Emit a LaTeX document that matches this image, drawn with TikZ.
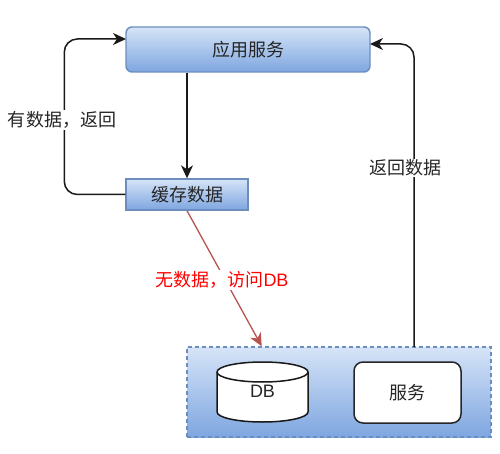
\documentclass[tikz,border=0pt]{standalone}
\usepackage{fontspec}
\setmainfont{Liberation Sans}
\newfontfamily\cjk{Noto Sans CJK SC}
\usetikzlibrary{arrows.meta,calc}
\definecolor{gtop}{HTML}{D6E4F7}
\definecolor{gbot}{HTML}{7EA6E0}
\definecolor{gedge}{HTML}{6C8EBF}
\definecolor{redline}{HTML}{B85450}
\tikzset{
  x=1pt,y=-1pt,
  blue box/.style={draw=gedge,line width=1.4pt,top color=gtop,bottom color=gbot,inner sep=0pt,font=\cjk\fontsize{18}{20}\selectfont,text=black!85},
  white box/.style={draw=black!85,line width=1.5pt,fill=white,rounded corners=9pt,inner sep=0pt,font=\cjk\fontsize{18}{20}\selectfont,text=black!85},
  conn/.style={draw=black!90,line width=1.5pt,rounded corners=13pt,-{Stealth[length=13pt,width=12pt,inset=4pt]}},
  lab/.style={fill=white,inner sep=1pt,font=\cjk\fontsize{18}{20}\selectfont,text=black!85},
}
\begin{document}
\begin{tikzpicture}
\useasboundingbox (0,0) rectangle (500,454);
\node[blue box,rounded corners=6pt,minimum width=244pt,minimum height=45pt] (app) at (248,49.5) {应用服务};
\node[blue box,minimum width=122pt,minimum height=31pt] (cache) at (187,194.5) {缓存数据};
\node[blue box,dash pattern=on 4pt off 3pt,minimum width=304pt,minimum height=90pt] (store) at (339,392) {};
% cylinder
\draw[draw=black!90,line width=1.5pt,fill=white] (217,372) arc[x radius=45.5,y radius=10,start angle=180,end angle=360] -- (308,412) arc[x radius=45.5,y radius=10,start angle=0,end angle=180] -- cycle;
\draw[draw=black!90,line width=1.5pt] (217,372) arc[x radius=45.5,y radius=10,start angle=180,end angle=0];
\node[font=\fontsize{18}{20}\selectfont,text=black!85] (db) at (262.5,391) {DB};
\node[white box,minimum width=107pt,minimum height=61pt] (svc) at (407.5,392.5) {服务};
\coordinate (appleft) at (126,39);
\coordinate (appright) at (370,44);
\coordinate (storeout) at (414,347);
\coordinate (redend) at ($(store.north west)!0.247!(store.north east)$);
\draw[conn] (app.south -| cache.north) -- (cache.north);
\draw[conn] (cache.west) -- ++(-61,0) |- (appleft);
\draw[conn] (storeout) |- (appright);
\draw[draw=redline,line width=1.3pt,-{Stealth[length=13pt,width=12pt,inset=4pt]}] (cache.south) -- (redend);
\node[lab] (l1) at (62,120) {有数据，返回};
\node[lab] (l2) at (405,168) {返回数据};
\node[lab,text=red] (l3) at (222,280) {无数据，访问\fontspec{Liberation Sans}DB};
\end{tikzpicture}
\end{document}
